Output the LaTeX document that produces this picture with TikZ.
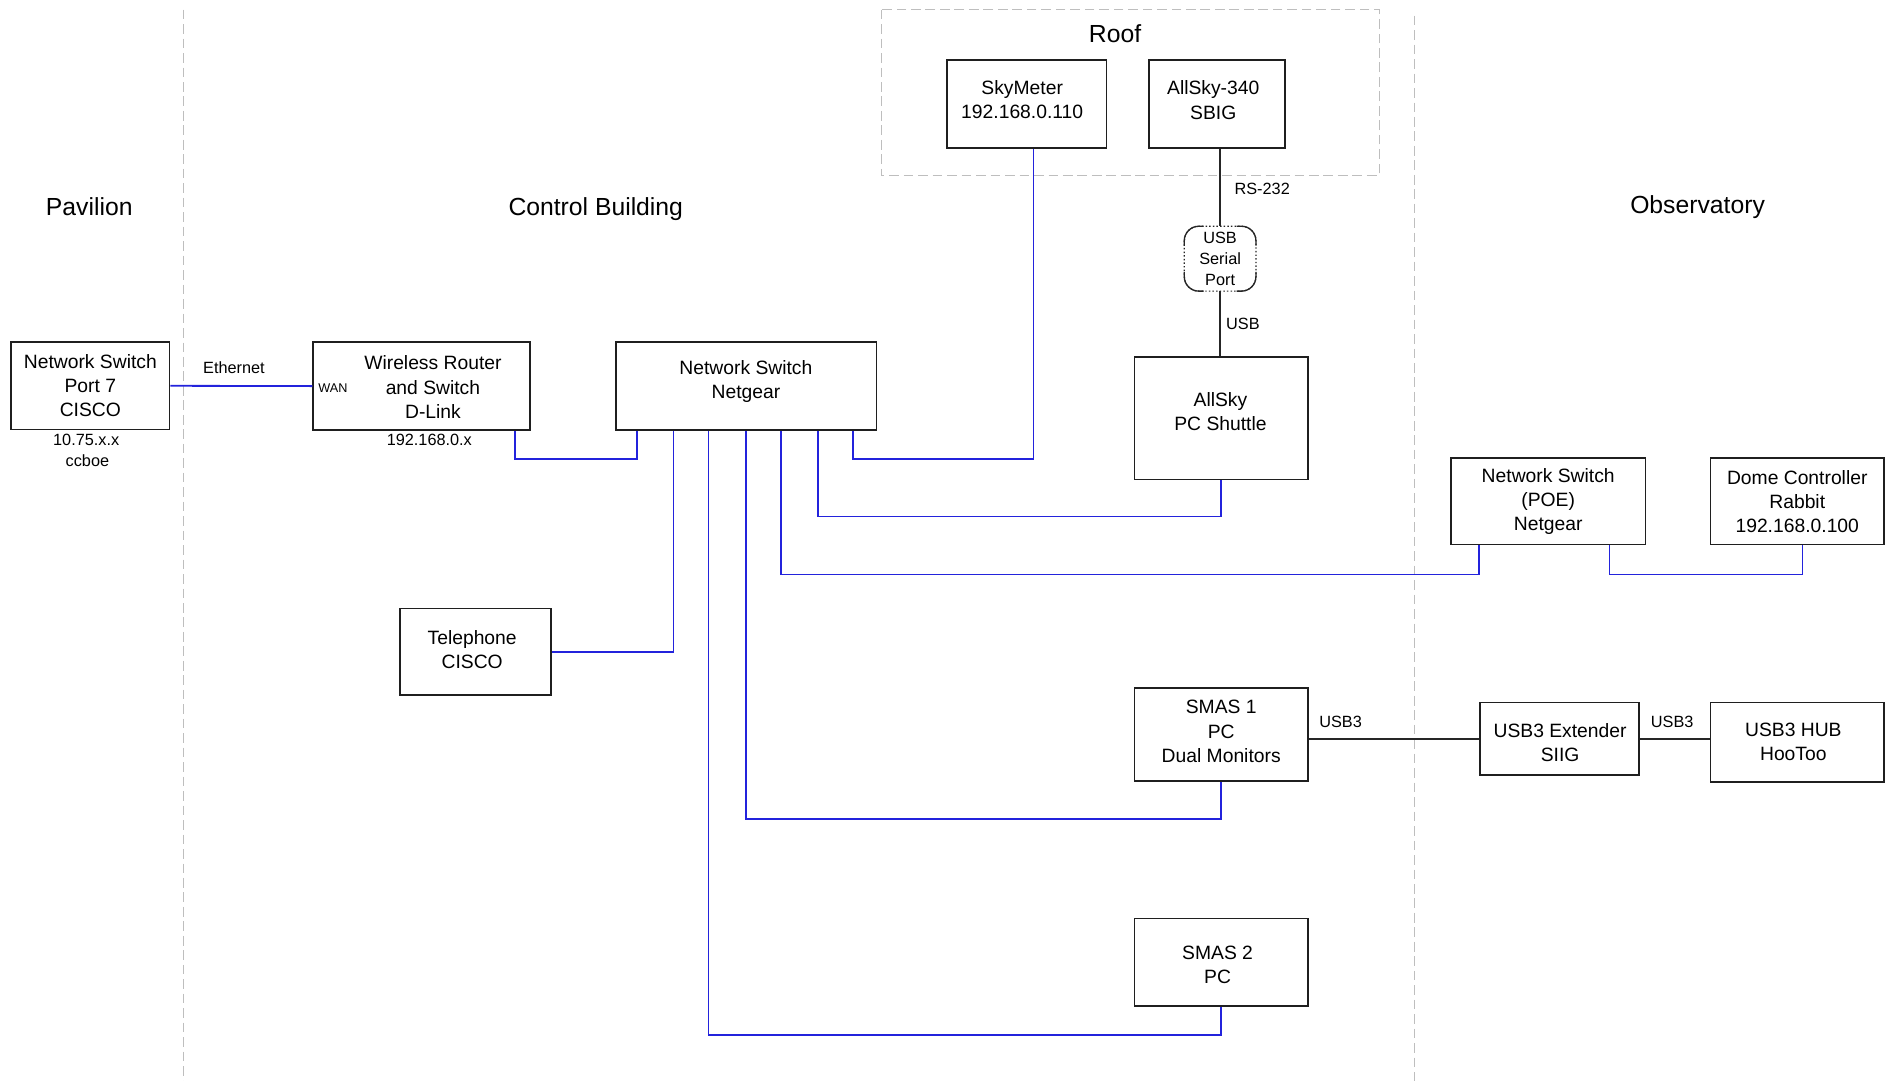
\documentclass[tikz,border=0pt]{standalone}
\usepackage{fontspec}
\setmainfont{Liberation Sans}
\definecolor{netblue}{RGB}{35,35,220}
\definecolor{divgray}{RGB}{190,190,190}
\begin{document}
\begin{tikzpicture}[x=1pt,y=-1pt,
  box/.style={draw=black!88, line width=1.3pt, fill=white, align=center, inner sep=0pt, anchor=north west, font=\fontsize{16}{20}\selectfont},
  txt/.style={align=center, inner sep=0pt, font=\fontsize{16}{20}\selectfont},
  net/.style={draw=netblue, line width=1.5pt},
  wire/.style={draw=black!85, line width=1.4pt},
  lbl/.style={font=\fontsize{13.5}{17.5}\selectfont, inner sep=0pt, align=center},
  sect/.style={font=\fontsize{20.5}{24}\selectfont, inner sep=0pt},
  divider/.style={draw=divgray, line width=1pt, dash pattern=on 8pt off 4pt}]

\useasboundingbox (0,0) rectangle (1568,896);
\fill[white] (0,0) rectangle (1568,896);

% dividers
\coordinate (dvPa) at (152,8);
\coordinate (dvPb) at (152,896);
\coordinate (dvOa) at (1172.6,13);
\coordinate (dvOb) at (1172.6,896);
\draw[divider] (dvPa) -- (dvPb);
\draw[divider] (dvOa) -- (dvOb);

% roof area
\coordinate (roofNW) at (731,8);
\coordinate (roofSE) at (1143.6,145.6);
\draw[divider] (roofNW) rectangle (roofSE);

% section labels
\node[sect] (pavilion) at (74,171) {Pavilion};
\node[sect] (control) at (494,173) {Control Building};
\node[sect] (observ) at (1407.6,172) {Observatory};
\node[sect] (roof) at (924.6,27.7) {Roof};

% boxes
\node[box, minimum width=131.5pt, minimum height=72.5pt] (cisco) at (8.5,283) {Network Switch\\Port 7\\CISCO};
\node[box, minimum width=180pt, minimum height=73pt] (router) at (259,283) {};
\node[txt] (routertxt) at (359,321) {Wireless Router\\and Switch\\D-Link};
\node[box, minimum width=216pt, minimum height=73pt] (netgear) at (510,283) {};
\node[txt] (netgeartxt) at (618.5,316) {Network Switch\\Netgear};
\node[box, minimum width=132.4pt, minimum height=73pt] (skymeter) at (784.6,49) {};
\node[txt] (skymetertxt) at (847.6,82.8) {SkyMeter\\192.168.0.110};
\node[box, minimum width=113pt, minimum height=73pt] (allsky340) at (952,49) {};
\node[txt] (allsky340txt) at (1006,83) {AllSky-340\\SBIG};
\node[box, minimum width=144pt, minimum height=101.4pt] (allskypc) at (940,295.6) {};
\node[txt] (allskypctxt) at (1012,341) {AllSky\\PC Shuttle};
\node[box, minimum width=161pt, minimum height=71.4pt] (poe) at (1202.6,379.3) {Network Switch\\(POE)\\Netgear};
\node[box, minimum width=144pt, minimum height=71.4pt] (dome) at (1417.6,379.3) {Dome Controller\\Rabbit\\192.168.0.100};
\node[box, minimum width=125pt, minimum height=72pt] (telephone) at (331,503.8) {};
\node[txt] (telephonetxt) at (391.5,538.5) {Telephone\\CISCO};
\node[box, minimum width=144pt, minimum height=77pt] (smas1) at (940,570) {};
\node[txt] (smas1txt) at (1012.6,606.5) {SMAS 1\\PC\\Dual Monitors};
\node[box, minimum width=132pt, minimum height=60pt] (usb3ext) at (1226.6,582) {};
\node[txt] (usb3exttxt) at (1293.6,615.5) {USB3 Extender\\SIIG};
\node[box, minimum width=144pt, minimum height=65.7pt] (usb3hub) at (1417.6,582) {};
\node[txt] (usb3hubtxt) at (1487,615.5) {USB3 HUB\\HooToo};
\node[box, minimum width=144pt, minimum height=72.4pt] (smas2) at (940,761) {};
\node[txt] (smas2txt) at (1009.6,799.7) {SMAS 2\\PC};

% USB serial port (rounded, dotted outline)
\node[lbl, minimum width=59pt, minimum height=53.4pt, anchor=north west] (usbser) at (982,187.6) {USB\\Serial\\Port};
\draw[black!85, line width=1pt, dash pattern=on 1.2pt off 1.8pt, rounded corners=12pt] (usbser.north west) rectangle (usbser.south east);
\draw[black!85, line width=1.1pt, rounded corners=12pt]
  ([yshift=-16pt]usbser.north west) |- ([xshift=16pt]usbser.north west);
\draw[black!85, line width=1.1pt, rounded corners=12pt]
  ([xshift=-16pt]usbser.north east) -| ([yshift=-16pt]usbser.north east);
\draw[black!85, line width=1.1pt, rounded corners=12pt]
  ([yshift=16pt]usbser.south west) |- ([xshift=16pt]usbser.south west);
\draw[black!85, line width=1.1pt, rounded corners=12pt]
  ([xshift=-16pt]usbser.south east) -| ([yshift=16pt]usbser.south east);

% blue network connectors
\draw[net] (cisco.east) -- (router.west);
\draw[net] ([xshift=168pt]router.south west) -- ++(0,23) -| ([xshift=18pt]netgear.south west);
\draw[net] (netgear.south west) ++(48.5,0) |- (telephone.east);
\draw[net] (netgear.south west) ++(77.5,0) -- ++(0,501) -| (smas2.south);
\draw[net] (netgear.south west) ++(108.5,0) -- ++(0,321.7) -| (smas1.south);
\draw[net] (netgear.south west) ++(137.5,0) -- ++(0,119) -| ([xshift=24pt]poe.south west);
\draw[net] (netgear.south west) ++(168,0) -- ++(0,71) -| (allskypc.south);
\draw[net] (netgear.south west) ++(197,0) -- ++(0,23) -| ([xshift=72.4pt]skymeter.south west);
\draw[net] ([xshift=132pt]poe.south west) -- ++(0,24.3) -| ([xshift=77pt]dome.south west);

% black wires
\draw[wire] (usbser.north |- allsky340.south) -- (usbser.north);
\draw[wire] (usbser.south) -- (usbser.south |- allskypc.north);
\draw[wire] (smas1.east |- usb3ext.west) -- (usb3ext.west);
\draw[wire] (usb3ext.east) -- (usb3hub.west |- usb3ext.east);

% small labels
\node[lbl] (ethlbl) at (194,305) {Ethernet};
\node[lbl, font=\fontsize{10.5}{12}\selectfont] (wanlbl) at (276,321.6) {WAN};
\node[lbl] (ciscoip) at (71.5,365) {10.75.x.x};
\node[lbl] (cisconame) at (72.5,382) {ccboe};
\node[lbl] (routerip) at (356,365) {192.168.0.x};
\node[lbl] (rslbl) at (1046.6,156.5) {RS-232};
\node[lbl] (usblbl) at (1030.6,268.5) {USB};
\node[lbl] (usb3a) at (1111.6,598.3) {USB3};
\node[lbl] (usb3b) at (1386.6,598.3) {USB3};
\end{tikzpicture}
\end{document}
